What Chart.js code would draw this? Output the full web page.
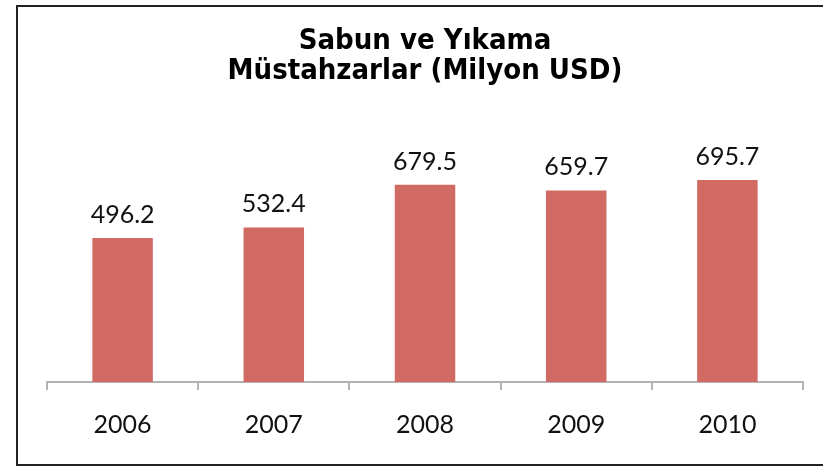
<!DOCTYPE html>
<html>
<head>
<meta charset="utf-8">
<script src="https://cdn.jsdelivr.net/npm/chart.js@4.4.0/dist/chart.umd.min.js"></script>
<style>
  html, body { margin: 0; padding: 0; background: #fff; }
  #wrap { position: relative; width: 823px; height: 467px; }
</style>
</head>
<body>
<div id="wrap"><canvas id="chart"></canvas></div>
<script>
// data
var years = ["2006", "2007", "2008", "2009", "2010"];
var values = [496.2, 532.4, 679.5, 659.7, 695.7];
var titleLines = ["Sabun ve Yıkama", "Müstahzarlar (Milyon USD)"];

var barColor = "#d06a63";
var axisColor = "#b3b3b3";

// frame on left, top and bottom like the original picture
var framePlugin = {
    id: "frame",
    beforeDraw: function(chart) {
        var ctx = chart.ctx
        ctx.save()
        ctx.strokeStyle = "#222"
        ctx.lineWidth = 2
        ctx.beginPath()
        ctx.moveTo(830, 6)
        ctx.lineTo(17, 6)
        ctx.lineTo(17, 465)
        ctx.lineTo(830, 465)
        ctx.stroke()
        ctx.restore()
    }
}

// value labels over the bars
var valueLabels = {
    id: "valueLabels",
    afterDatasetsDraw: function(chart) {
        var ctx = chart.ctx
        var meta = chart.getDatasetMeta(0)
        ctx.save()
        ctx.font = "25px Lato"
        ctx.fillStyle = "#111"
        ctx.textAlign = "center"
        ctx.textBaseline = "alphabetic"
        meta.data.forEach(function(bar, i) {
            ctx.fillText(values[i].toFixed(1), bar.x, bar.y - 15)
        })
        ctx.restore()
    }
}

new Chart("chart", {
    type: "bar",
    data: {
        labels: years,
        datasets: [{
            data: values,
            backgroundColor: barColor,
            borderWidth: 0,
            barPercentage: 0.4,
            categoryPercentage: 1.0
        }]
    },
    options: {
        responsive: true,
        maintainAspectRatio: false,
        animation: false,
        events: [],
        layout: { padding: { left: 47, right: 20, top: 0, bottom: 0 } },
        plugins: {
            legend: { display: false },
            tooltip: { enabled: false },
            title: {
                display: true,
                text: titleLines,
                color: "#000",
                font: { family: "DejaVu Sans Condensed", size: 29, weight: "bold", lineHeight: 1.03 },
                padding: { top: 27, bottom: 63 }
            }
        },
        scales: {
            y: {
                display: false,
                min: 0,
                max: 800
            },
            x: {
                grid: {
                    display: true,
                    drawOnChartArea: false,
                    drawTicks: true,
                    tickLength: 8,
                    color: axisColor,
                    lineWidth: 2,
                    offset: true
                },
                border: { display: true, color: axisColor, width: 2 },
                ticks: {
                    color: "#111",
                    font: { family: "Lato", size: 25 },
                    padding: 20
                },
                afterFit: function(scale) { scale.height = 85 }
            }
        }
    },
    plugins: [framePlugin, valueLabels]
});
</script>
</body>
</html>
